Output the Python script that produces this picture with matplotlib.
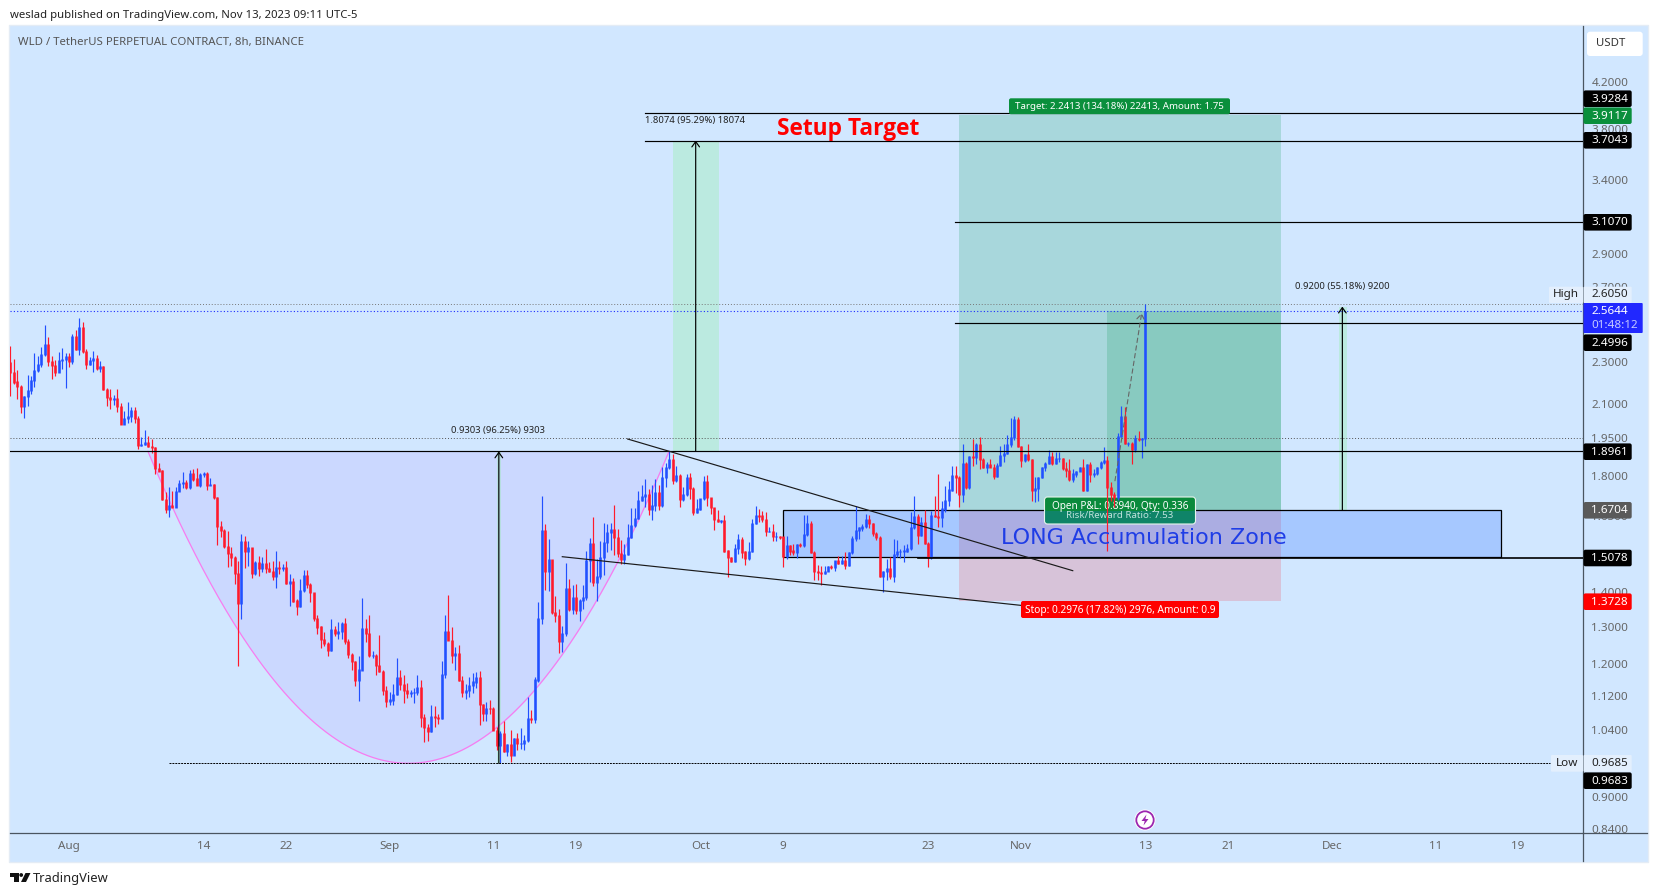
import numpy as np
import matplotlib
matplotlib.use("Agg")
import matplotlib.pyplot as plt
from matplotlib.patches import Rectangle, FancyBboxPatch, Circle, Polygon

W, H = 1657, 896
FONT = ["Noto Sans", "DejaVu Sans"]
plt.rcParams["font.family"] = FONT

open_first = 2.296
closes = [
 2.248,2.202,2.179,2.087,2.133,2.163,2.210,2.259,2.285,2.338,
 2.388,2.301,2.282,2.248,2.305,2.310,2.325,2.300,2.427,2.363,
 2.474,2.351,2.288,2.305,2.318,2.267,2.278,2.167,2.130,2.121,
 2.127,2.087,2.011,2.037,2.043,2.069,2.037,1.919,1.926,1.934,
 1.917,1.913,1.828,1.818,1.711,1.675,1.689,1.681,1.740,1.771,
 1.775,1.753,1.806,1.787,1.764,1.803,1.809,1.764,1.764,1.718,
 1.614,1.599,1.546,1.521,1.508,1.457,1.366,1.561,1.530,1.541,
 1.457,1.491,1.475,1.488,1.473,1.465,1.447,1.476,1.473,1.477,
 1.428,1.432,1.374,1.359,1.406,1.452,1.423,1.399,1.322,1.299,
 1.265,1.253,1.234,1.291,1.280,1.287,1.310,1.260,1.225,1.205,
 1.159,1.184,1.294,1.280,1.222,1.222,1.195,1.181,1.132,1.106,
 1.110,1.124,1.165,1.148,1.132,1.126,1.128,1.128,1.140,1.069,
 1.046,1.037,1.071,1.068,1.066,1.173,1.287,1.262,1.221,1.226,
 1.157,1.128,1.132,1.146,1.154,1.165,1.100,1.078,1.090,1.089,
 1.040,1.007,1.033,.993,1.009,.985,1.022,1.011,1.011,1.018,
 1.066,1.064,1.159,1.322,1.599,1.465,1.502,1.340,1.331,1.260,
 1.280,1.411,1.349,1.384,1.346,1.376,1.383,1.499,1.554,1.431,
 1.447,1.508,1.557,1.591,1.601,1.576,1.521,1.502,1.519,1.576,
 1.616,1.640,1.705,1.720,1.728,1.672,1.687,1.737,1.687,1.794,
 1.832,1.865,1.783,1.800,1.709,1.728,1.792,1.749,1.663,1.675,
 1.712,1.777,1.716,1.679,1.636,1.632,1.634,1.530,1.509,1.497,
 1.538,1.569,1.527,1.505,1.529,1.622,1.652,1.650,1.637,1.597,
 1.597,1.580,1.580,1.577,1.513,1.549,1.530,1.524,1.551,1.549,
 1.584,1.624,1.524,1.465,1.460,1.457,1.465,1.481,1.477,1.499,
 1.491,1.499,1.483,1.524,1.571,1.599,1.608,1.614,1.637,1.622,
 1.590,1.574,1.448,1.465,1.473,1.448,1.518,1.529,1.529,1.530,
 1.538,1.611,1.648,1.582,1.628,1.554,1.509,1.652,1.648,1.646,
 1.675,1.705,1.745,1.800,1.794,1.730,1.848,1.753,1.874,1.871,
 1.926,1.865,1.830,1.845,1.832,1.797,1.841,1.878,1.888,1.923,
 1.954,2.030,1.915,1.859,1.882,1.863,1.745,1.749,1.791,1.830,
 1.849,1.874,1.848,1.867,1.867,1.826,1.819,1.785,1.806,1.817,
 1.832,1.743,1.842,1.806,1.809,1.830,1.852,1.861,1.755,1.728,
 1.718,1.957,2.043,1.930,1.930,1.905,1.951,1.947,1.950,2.5644]
highs = [
 2.380,2.313,2.259,2.186,2.137,2.235,2.233,2.343,2.330,2.376,
 2.490,2.427,2.330,2.308,2.351,2.368,2.346,2.346,2.441,2.462,
 2.528,2.506,2.363,2.325,2.355,2.335,2.305,2.280,2.176,2.168,
 2.142,2.170,2.105,2.067,2.107,2.087,2.087,2.048,1.958,1.987,
 1.961,1.947,1.913,1.849,1.822,1.738,1.755,1.741,1.755,1.783,
 1.815,1.783,1.823,1.826,1.830,1.810,1.813,1.813,1.791,1.766,
 1.720,1.631,1.605,1.599,1.543,1.515,1.496,1.586,1.579,1.562,
 1.541,1.496,1.515,1.512,1.538,1.494,1.496,1.529,1.496,1.488,
 1.499,1.455,1.445,1.381,1.441,1.470,1.470,1.428,1.399,1.332,
 1.301,1.285,1.258,1.322,1.303,1.313,1.313,1.324,1.267,1.227,
 1.207,1.220,1.384,1.322,1.332,1.233,1.225,1.278,1.184,1.144,
 1.130,1.150,1.214,1.184,1.171,1.152,1.134,1.138,1.171,1.159,
 1.078,1.054,1.098,1.096,1.078,1.207,1.334,1.391,1.298,1.245,
 1.250,1.169,1.148,1.167,1.177,1.179,1.182,1.100,1.106,1.109,
 1.093,1.047,1.038,1.062,1.009,1.040,1.022,1.033,1.044,1.029,
 1.118,1.086,1.167,1.372,1.724,1.620,1.569,1.502,1.388,1.351,
 1.303,1.491,1.441,1.421,1.424,1.381,1.421,1.529,1.573,1.647,
 1.504,1.565,1.625,1.622,1.624,1.691,1.605,1.568,1.554,1.620,
 1.677,1.677,1.740,1.762,1.787,1.749,1.762,1.787,1.762,1.832,
 1.851,1.899,1.885,1.839,1.807,1.756,1.807,1.811,1.756,1.712,
 1.712,1.800,1.802,1.716,1.679,1.672,1.637,1.654,1.534,1.510,
 1.552,1.586,1.577,1.530,1.560,1.640,1.687,1.675,1.667,1.664,
 1.613,1.622,1.594,1.582,1.577,1.582,1.549,1.552,1.552,1.557,
 1.652,1.654,1.634,1.529,1.486,1.481,1.483,1.483,1.486,1.499,
 1.515,1.515,1.527,1.527,1.582,1.687,1.611,1.620,1.658,1.655,
 1.624,1.594,1.582,1.467,1.504,1.512,1.571,1.568,1.538,1.549,
 1.554,1.664,1.724,1.658,1.645,1.672,1.560,1.669,1.724,1.806,
 1.705,1.759,1.781,1.839,1.839,1.800,1.926,1.852,1.878,1.947,
 1.929,1.954,1.871,1.852,1.865,1.845,1.848,1.917,1.926,1.963,
 2.037,2.048,2.040,1.919,1.885,1.926,1.865,1.794,1.794,1.832,
 1.852,1.900,1.893,1.893,1.893,1.871,1.852,1.865,1.826,1.819,
 1.835,1.865,1.845,1.852,1.826,1.832,1.859,1.913,1.878,1.775,
 1.736,1.975,2.092,2.085,1.935,1.933,1.965,1.982,1.950,2.605]
lows = [
 2.137,2.191,2.122,2.062,2.036,2.092,2.145,2.179,2.248,2.272,
 2.330,2.280,2.218,2.232,2.248,2.267,2.176,2.272,2.288,2.358,
 2.335,2.346,2.267,2.285,2.248,2.259,2.248,2.163,2.092,2.077,
 2.096,2.065,2.011,2.011,2.018,2.021,2.014,1.906,1.917,1.922,
 1.913,1.888,1.806,1.817,1.708,1.660,1.646,1.681,1.681,1.740,
 1.753,1.749,1.749,1.781,1.762,1.758,1.794,1.745,1.762,1.712,
 1.549,1.578,1.540,1.478,1.483,1.426,1.195,1.321,1.475,1.481,
 1.444,1.452,1.449,1.462,1.459,1.462,1.438,1.412,1.457,1.467,
 1.424,1.358,1.371,1.332,1.356,1.400,1.414,1.371,1.316,1.280,
 1.241,1.247,1.221,1.233,1.274,1.265,1.265,1.253,1.216,1.183,
 1.144,1.108,1.183,1.258,1.218,1.214,1.171,1.180,1.122,1.093,
 1.097,1.098,1.122,1.134,1.104,1.116,1.118,1.102,1.122,1.048,
 1.015,1.017,1.037,1.048,1.054,1.066,1.165,1.262,1.203,1.184,
 1.156,1.118,1.112,1.118,1.128,1.138,1.051,1.062,1.061,1.078,
 1.040,.996,.9685,.993,.983,.972,.985,.997,.999,.997,
 1.015,1.057,1.057,1.154,1.308,1.406,1.404,1.337,1.313,1.227,
 1.231,1.275,1.346,1.337,1.337,1.316,1.351,1.376,1.431,1.419,
 1.373,1.439,1.452,1.527,1.532,1.516,1.512,1.488,1.488,1.516,
 1.574,1.610,1.640,1.703,1.681,1.652,1.636,1.669,1.672,1.684,
 1.756,1.826,1.768,1.774,1.681,1.705,1.724,1.712,1.652,1.660,
 1.672,1.708,1.687,1.658,1.602,1.628,1.624,1.527,1.448,1.494,
 1.494,1.521,1.508,1.486,1.501,1.527,1.622,1.630,1.628,1.582,
 1.594,1.563,1.563,1.571,1.478,1.504,1.516,1.516,1.508,1.543,
 1.543,1.582,1.524,1.436,1.436,1.421,1.457,1.465,1.473,1.467,
 1.488,1.488,1.473,1.481,1.521,1.565,1.571,1.599,1.608,1.608,
 1.582,1.568,1.447,1.400,1.436,1.442,1.431,1.510,1.508,1.494,
 1.527,1.532,1.605,1.554,1.582,1.554,1.478,1.504,1.646,1.611,
 1.613,1.663,1.687,1.741,1.735,1.681,1.699,1.749,1.749,1.839,
 1.845,1.826,1.830,1.809,1.832,1.785,1.796,1.839,1.855,1.885,
 1.915,1.943,1.913,1.835,1.852,1.859,1.703,1.699,1.705,1.791,
 1.819,1.845,1.841,1.845,1.852,1.822,1.794,1.781,1.775,1.794,
 1.817,1.740,1.740,1.775,1.794,1.804,1.826,1.845,1.530,1.705,
 1.681,1.708,1.954,1.926,1.920,1.845,1.895,1.940,1.871,1.919]

last_candle_day = 104            # Nov 13, in days since Aug 1
candles_per_day = 3

time_ticks = [0, 13, 21, 31, 41, 49, 61, 69, 83, 92, 104, 112, 122, 132, 140]
time_labels = ["Aug","14","22","Sep","11","19","Oct","9","23","Nov","13","21","Dec","11","19"]
price_ticks = [4.2, 3.8, 3.4, 2.9, 2.7, 2.3, 2.1, 1.95, 1.8, 1.65, 1.4, 1.3, 1.2, 1.12, 1.04, 0.9, 0.84]

XMIN, XMAX = -5.70, 146.28
YMIN, YMAX = 0.8335, 4.741

fig = plt.figure(figsize=(W/100, H/100), dpi=100, facecolor="white")

def axes_px(x0, y0, x1, y1, **kw):
    return fig.add_axes([x0/W, 1-y1/H, (x1-x0)/W, (y1-y0)/H], **kw)

# background panel
bg = fig.add_axes([0, 0, 1, 1], zorder=0)
bg.set_xlim(0, W); bg.set_ylim(H, 0); bg.axis("off")
bg.add_patch(Rectangle((9, 25), 1639, 837, fc="#d1e7ff", ec="#e4ecf5", lw=1))
bg.plot([1583, 1583], [833, 861], color="#4a5560", lw=0.9)
bg.plot([1583, 1647], [833, 833], color="#4a5560", lw=0.9)

ax = axes_px(10, 26, 1583, 833, zorder=1)
ax.patch.set_alpha(0)
ax.set_yscale("log")
ax.set_xlim(XMIN, XMAX); ax.set_ylim(YMIN, YMAX)
for s in ("top", "left"):
    ax.spines[s].set_visible(False)
for s in ("right", "bottom"):
    ax.spines[s].set_color("#4a5560"); ax.spines[s].set_linewidth(0.9)
ax.yaxis.tick_right()
ax.set_yticks(price_ticks)
ax.set_yticklabels([f"{p:.4f}" for p in price_ticks], fontsize=8.4, color="#666666")
ax.minorticks_off()
ax.yaxis.set_tick_params(which="both", length=0, pad=6)
ax.set_xticks(time_ticks)
ax.set_xticklabels(time_labels, fontsize=8.4, color="#666666")
ax.xaxis.set_tick_params(length=0, pad=6)

# filled drawings
def box(x0, x1, p0, p1, color, alpha, z=1.0):
    ax.add_patch(Rectangle((x0, p0), x1-x0, p1-p0, fc=color, alpha=alpha, ec="none", zorder=z))

arc_t = np.linspace(0, 1, 200)
arc_start, arc_end, arc_top, arc_bottom = 7.63, 57.97, 1.8961, 0.9685
arc_x = arc_start + (arc_end-arc_start)*arc_t
arc_y = np.exp(np.log(arc_bottom) + (np.log(arc_top)-np.log(arc_bottom))*(2*arc_t-1)**2)
ax.fill_between(arc_x, arc_y, arc_top, color="#9c5cff", alpha=0.10, lw=0, zorder=1)
ax.plot(arc_x, arc_y, color="#f77cf0", lw=0.9, zorder=1.2)

box(86, 117.1, 1.6704, 3.9117, "#089950", 0.2)
box(86, 117.1, 1.3728, 1.6704, "#f23645", 0.2)
box(100.26, 117.1, 1.6704, 2.5644, "#089950", 0.2)
box(58.36, 62.8, 1.8961, 3.7043, "#64fa64", 0.2)
box(122.71, 123.5, 1.6704, 2.5904, "#64fa64", 0.2)
box(41.35, 41.74, 0.9683, 1.8961, "#64fa64", 0.2)
ax.add_patch(Rectangle((69.0, 1.5095), 138.4-69.0, 1.6704-1.5095, fc=(0.157, 0.43, 1.0, 0.25),
                       ec="black", lw=0.9, zorder=1.4))

# candles
n = len(closes)
days = last_candle_day - (n-1-np.arange(n))/candles_per_day
c = np.array(closes); h = np.array(highs); l = np.array(lows)
o = np.r_[open_first, c[:-1]]
cols = np.where(c >= o, "#2150ff", "#ff1a2b")
ax.vlines(days, l, h, colors=cols, lw=0.85, zorder=2)
ax.vlines(days, np.minimum(o, c)/1.0012, np.maximum(o, c)*1.0012, colors=cols, lw=1.85, zorder=2.1,
          capstyle="butt")

# lines
LK = dict(color="black", zorder=3)
ax.plot([XMIN, XMAX], [1.8961, 1.8961], lw=0.85, **LK)
ax.plot([55.65, XMAX], [3.9284, 3.9284], lw=0.85, **LK)
ax.plot([55.65, XMAX], [3.7043, 3.7043], lw=0.85, **LK)
ax.plot([85.65, XMAX], [3.1070, 3.1070], lw=0.85, **LK)
ax.plot([85.65, XMAX], [2.4996, 2.4996], lw=0.85, **LK)
ax.plot([82.03, XMAX], [1.5078, 1.5078], lw=1.2, **LK)
ax.plot([9.66, 143.1], [0.9685, 0.9685], lw=0.7, ls=(0, (2, 1)), **LK)
ax.plot([XMIN, XMAX], [2.605, 2.605], lw=0.7, ls=(0, (1, 2)), color="#777777", zorder=1.5)
ax.plot([XMIN, XMAX], [2.5644, 2.5644], lw=0.8, ls=(0, (1, 2)), color="#1a2cff", zorder=1.5)
ax.plot([XMIN, XMAX], [1.95, 1.95], lw=0.7, ls=(0, (1, 2)), color="#555555", zorder=1.5)
ax.plot([53.98, 96.98], [1.9475, 1.4666], lw=0.85, color="#1a1a1a", zorder=3)
ax.plot([47.66, 92.08], [1.5114, 1.3607], lw=0.85, color="#1a1a1a", zorder=3)

def arrow(x0, p0, x1, p1, **kw):
    ax.annotate("", xy=(x1, p1), xytext=(x0, p0), zorder=3.2,
                arrowprops=dict(arrowstyle="->,head_length=0.35,head_width=0.25", shrinkA=0, shrinkB=0,
                                mutation_scale=11, **kw))
arrow(41.53, 0.9683, 41.53, 1.8961, color="black", lw=0.85)
arrow(60.55, 1.8961, 60.55, 3.7043, color="black", lw=0.85)
arrow(123.03, 1.6704, 123.03, 2.5904, color="black", lw=0.85)
arrow(101.06, 1.780, 103.64, 2.554, color="#666666", lw=0.8, linestyle=(0, (4, 3)))

# overlay: captions and price scale labels
ov = fig.add_axes([0, 0, 1, 1], zorder=2)
ov.set_xlim(0, W); ov.set_ylim(H, 0); ov.axis("off"); ov.patch.set_alpha(0)

def label_box(x0, y0, x1, y1, fc, ec="none", r=2, z=1, lw=1.0):
    ov.add_patch(FancyBboxPatch((x0, y0), x1-x0, y1-y0, boxstyle=f"round,pad=0,rounding_size={r}",
                                fc=fc, ec=ec, lw=lw, zorder=z))

def txt(x, y, s, size, color="black", ha="left", weight="normal", z=5, target=ov, fam=None):
    target.text(x, y, s, fontsize=size, color=color, ha=ha, va="center", fontweight=weight,
                zorder=z, family=fam or FONT)

txt(10, 15.5, "weslad published on TradingView.com, Nov 13, 2023 09:11 UTC-5", 8.15, "#222222")
txt(18, 42, "WLD / TetherUS PERPETUAL CONTRACT, 8h, BINANCE", 8.2, "#555555")

txt(450.7, 431, "0.9303 (96.25%) 9303", 6.8, "#222222")
txt(645, 121, "1.8074 (95.29%) 18074", 6.8, "#222222")
txt(1294.6, 287, "0.9200 (55.18%) 9200", 6.8, "#222222")
txt(777, 129, "Setup Target", 16.3, "#ff0000", weight="bold", fam=["Open Sans", "DejaVu Sans"])
txt(1001, 538, "LONG Accumulation Zone", 16.05, "#1f3de6", fam=["DejaVu Sans"])

label_box(1009, 98.3, 1230, 114.3, "#0a8f3c")
txt(1119.5, 106.5, "Target: 2.2413 (134.18%) 22413, Amount: 1.75", 7.0, "white", ha="center")
label_box(1021, 601, 1219, 618, "#ff0000")
txt(1120, 610, "Stop: 0.2976 (17.82%) 2976, Amount: 0.9", 7.3, "white", ha="center")

# open P&L badge sits under the candles: drawn in the price axes with the pixel transform
ax.add_patch(FancyBboxPatch((1044.5, 497), 151, 27, boxstyle="round,pad=0,rounding_size=3",
                            fc="#0f8468", ec="none", zorder=1.7, transform=ov.transData))
ax.add_patch(FancyBboxPatch((1044.5, 497), 151, 14, boxstyle="round,pad=0,rounding_size=3",
                            fc="#0a8a3c", ec="none", zorder=1.75, transform=ov.transData))
ax.add_patch(FancyBboxPatch((1044.5, 497), 151, 27, boxstyle="round,pad=0,rounding_size=3",
                            fc="none", ec="#e8f5ee", lw=0.8, zorder=1.8, transform=ov.transData))
ax.text(1120, 506, "Open P&L: 0.8940, Qty: 0.336", fontsize=7.2, color="white", ha="center", va="center",
        zorder=1.9, transform=ov.transData)
ax.text(1120, 516, "Risk/Reward Ratio: 7.53", fontsize=7.0, color="#bfe3dc", ha="center", va="center",
        zorder=1.9, transform=ov.transData)

# price scale labels
scale_labels = [("3.9284", 98.7, "black", "white"), ("3.9117", 115.7, "#0a8f3c", "white"),
                ("3.7043", 140.3, "black", "white"), ("3.1070", 222.3, "black", "white"),
                ("2.4996", 342.7, "black", "white"), ("1.8961", 451.7, "black", "white"),
                ("1.6704", 510.3, "#5a5a5a", "white"), ("1.5078", 558.0, "black", "white"),
                ("1.3728", 601.7, "#ff0000", "white"), ("0.9683", 780.7, "black", "white")]
for s, y, fc, tc in scale_labels:
    label_box(1583.5, y-8.3, 1631.7, y+8.3, fc)
    txt(1591, y+0.4, s, 8.4, tc, weight="medium")

label_box(1583.5, 303, 1642.7, 333, "#2128ff", r=1)
txt(1591, 312, "2.5644", 8.4, "white", weight="medium")
txt(1591, 325.7, "01:48:12", 8.4, "#c5caff")

label_box(1549, 286.7, 1583, 303, "#e3effd", r=1)
label_box(1583.5, 286.7, 1631.7, 303, "#e3effd", r=1)
txt(1553, 294.9, "High", 8.4, "#222222")
txt(1591, 294.9, "2.6050", 8.4, "#222222")
label_box(1551, 755, 1583, 771.7, "#e3effd", r=1)
label_box(1583.5, 755, 1631.7, 771.7, "#e3effd", r=1)
txt(1555.5, 763.5, "Low", 8.4, "#222222")
txt(1591, 763.5, "0.9685", 8.4, "#222222")

label_box(1587, 31.7, 1642.7, 56, "white", r=3)
txt(1596, 44, "USDT", 8.2, "#333333")

# event marker
ov.add_patch(Circle((1145, 820), 10.5, fc="white", ec="none", zorder=3))
ov.add_patch(Circle((1145, 820), 8.7, fc="none", ec="#9c27b0", lw=1.3, zorder=4))
ov.add_patch(Polygon([(1146.5, 814.5), (1141.5, 821), (1144.7, 821), (1143.5, 825.5), (1148.5, 819),
                      (1145.3, 819)], closed=True, fc="#9c27b0", ec="none", zorder=5))

# logo
ov.add_patch(Polygon([(10, 873), (18.5, 873), (18.5, 882), (14, 882), (14, 877), (10, 877)], closed=True,
                     fc="#111111", ec="none"))
ov.add_patch(Circle((21.2, 875), 1.9, fc="#111111", ec="none"))
ov.add_patch(Polygon([(25.5, 873), (30.5, 873), (26, 882), (21, 882)], closed=True, fc="#111111", ec="none"))
txt(33, 878.5, "TradingView", 9.3, "#222222")

fig.savefig("out.png", dpi=100, facecolor="white")
